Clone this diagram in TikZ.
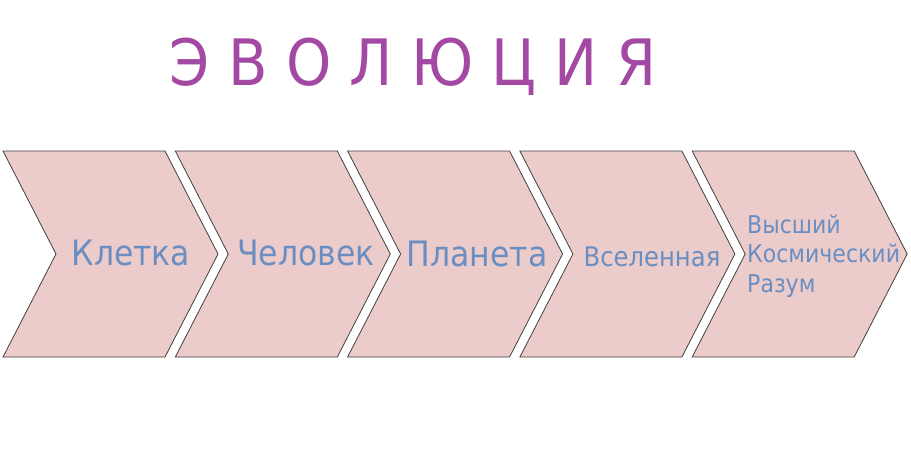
\documentclass[tikz,border=0pt]{standalone}
\usepackage{fontspec}
\setmainfont{DejaVu Sans}
\newfontfamily\labelfont[FakeStretch=0.9]{DejaVu Sans}
\newfontfamily\titlefont[FakeStretch=0.9]{DejaVu Sans}
\definecolor{chevfill}{RGB}{236,204,203}
\definecolor{chevline}{RGB}{64,64,64}
\definecolor{labelblue}{RGB}{106,142,194}
\definecolor{titlepurple}{RGB}{163,73,164}
\begin{document}
\begin{tikzpicture}[x=1pt,y=-1pt,
    chev/.style={fill=chevfill,draw=chevline,line width=0.8pt,line join=miter},
    lbl/.style={text=labelblue,anchor=base,inner sep=0pt}]
    \useasboundingbox (0,0) rectangle (911,460);
    \node[text=titlepurple,font=\titlefont\fontsize{64}{64}\selectfont,anchor=base,inner sep=0pt] (title) at (413,85) {Э В О Л Ю Ц И Я};
    % chevrons
    \foreach \i in {0,...,4} {
        \draw[chev] ({3+172.3*\i},151) -- ++(162,0) -- ++(53,103) -- ++(-53,103) -- ++(-162,0) -- ++(53,-103) -- cycle;
    }
    \node[lbl,font=\labelfont\fontsize{35}{35}\selectfont] (cell) at (131,265) {Клетка};
    \node[lbl,font=\labelfont\fontsize{35}{35}\selectfont] (human) at (306,265) {Человек};
    \node[lbl,font=\labelfont\fontsize{35}{35}\selectfont] (planet) at (477,266) {Планета};
    \node[lbl,font=\labelfont\fontsize{27}{27}\selectfont] (universe) at (652,266) {Вселенная};
    \node[lbl,anchor=base west,font=\labelfont\fontsize{24.5}{24.5}\selectfont] (higher) at (747,233) {Высший};
    \node[lbl,anchor=base west,font=\labelfont\fontsize{24.5}{24.5}\selectfont] (cosmic) at (747,262) {Космический};
    \node[lbl,anchor=base west,font=\labelfont\fontsize{24.5}{24.5}\selectfont] (mind) at (747,292) {Разум};
\end{tikzpicture}
\end{document}
